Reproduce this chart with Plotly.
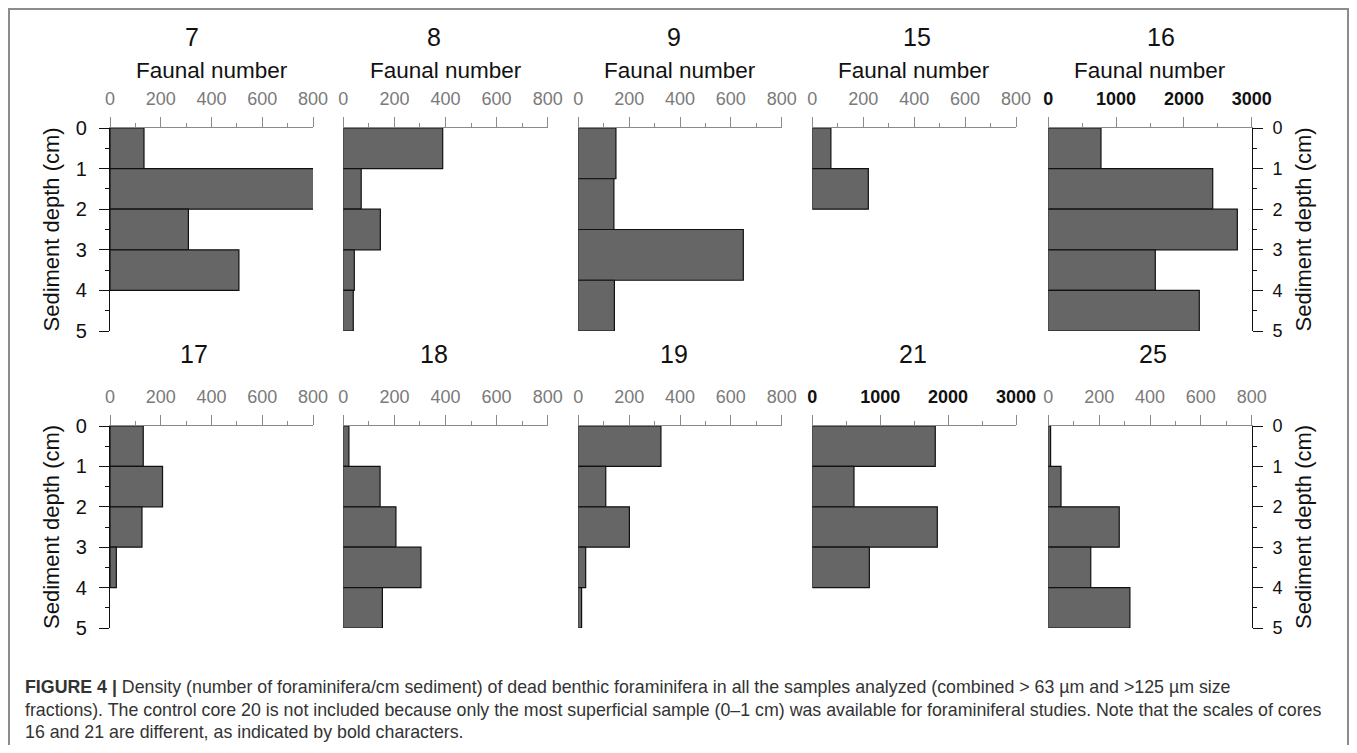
import plotly.graph_objects as go

# page is 1357x753; the browser body adds an 8px margin around the figure
PAGE_W, PAGE_H = 1357, 753
OFF = 8
W, H = PAGE_W - 2 * OFF, PAGE_H - 2 * OFF

# ---------------- data ----------------
cores = ["7", "8", "9", "15", "16", "17", "18", "19", "21", "25"]
depth_std = [0, 1, 2, 3, 4, 5]
depth_c9 = [0, 1.25, 2.5, 3.75, 5]

fauna_7 = [134, 805, 309, 508]
fauna_8 = [389, 70, 145, 43, 39]
fauna_9 = [148, 140, 649, 142]
fauna_15 = [73, 220]
fauna_16 = [777, 2425, 2788, 1578, 2227]
fauna_17 = [131, 207, 126, 25]
fauna_18 = [22, 144, 206, 304, 153]
fauna_19 = [325, 108, 201, 29, 13]
fauna_21 = [1811, 614, 1841, 840]
fauna_25 = [9, 50, 279, 167, 321]

scale_small_max = 800
scale_large_max = 3000
depth_ticks = [0, 1, 2, 3, 4, 5]

x_title = "Faunal number"
y_title = "Sediment depth (cm)"
caption_lines = [
    "<b>FIGURE 4 |</b> Density (number of foraminifera/cm sediment) of dead benthic foraminifera in all the samples analyzed (combined &gt; 63 µm and &gt;125 µm size",
    "fractions). The control core 20 is not included because only the most superficial sample (0–1 cm) was available for foraminiferal studies. Note that the scales of cores",
    "16 and 21 are different, as indicated by bold characters.",
]

values = [fauna_7, fauna_8, fauna_9, fauna_15, fauna_16,
          fauna_17, fauna_18, fauna_19, fauna_21, fauna_25]
depths = [depth_std, depth_std, depth_c9, depth_std, depth_std,
          depth_std, depth_std, depth_std, depth_std, depth_std]
large_scale = [False, False, False, False, True,
               False, False, False, True, False]

# ---------------- layout geometry (page pixels) ----------------
col_px = [(110, 313), (343.3, 547.7), (578.3, 781.7), (812.3, 1016), (1048.3, 1251.7)]
row_px = [(128, 331), (426, 628)]
title_x_px = [192, 434, 674, 917, 1161, 194, 434, 674, 913, 1153]
title_y_px = [37, 354]
xtitle_y_px = 70

FONT = "Liberation Sans, Arial, Helvetica, sans-serif"
GRAY = "#8a8a8a"

def px_x(p):
    return (p - OFF) / W

def px_y(p):
    return 1 - (p - OFF) / H

fig = go.Figure()
layout = {}
annotations = []

for i, core in enumerate(cores):
    n = i + 1
    r, c = divmod(i, 5)
    xs = "x" if n == 1 else f"x{n}"
    ys = "y" if n == 1 else f"y{n}"
    xkey = "xaxis" if n == 1 else f"xaxis{n}"
    ykey = "yaxis" if n == 1 else f"yaxis{n}"

    d = depths[i]
    v = values[i]
    mids = [(d[k] + d[k + 1]) / 2 for k in range(len(v))]
    widths = [d[k + 1] - d[k] for k in range(len(v))]

    fig.add_trace(go.Bar(
        x=v, y=mids, width=widths, orientation="h",
        marker=dict(color="#666666", line=dict(color="#111111", width=1.2)),
        xaxis=xs, yaxis=ys, showlegend=False, hoverinfo="skip",
        cliponaxis=False,
    ))

    big = large_scale[i]
    xmax = scale_large_max if big else scale_small_max
    layout[xkey] = dict(
        domain=[px_x(col_px[c][0]), px_x(col_px[c][1])],
        anchor=ys, side="top", range=[0, xmax],
        automargin=False,
        showgrid=False, zeroline=False,
        showline=True, linecolor=GRAY, linewidth=1.3,
        ticks="outside", ticklen=10, tickwidth=1.2, tickcolor=GRAY,
        tickmode="linear", tick0=0, dtick=1000 if big else 200,
        minor=dict(ticks="outside", ticklen=4, tickwidth=1.2, tickcolor=GRAY,
                   dtick=500 if big else 100, tick0=0, showgrid=False),
        exponentformat="none", separatethousands=False,
        tickfont=dict(family=FONT, size=18,
                      color="#111111" if big else "#7a7a7a",
                      weight="bold" if big else "normal"),
        ticklabelstandoff=5,
        fixedrange=True,
    )

    ydom = [px_y(row_px[r][1]), px_y(row_px[r][0])]
    yax = dict(domain=ydom, anchor=xs, range=[5, 0], showgrid=False,
               zeroline=False, fixedrange=True, automargin=False)
    if c == 0 or c == 4:
        yax.update(
            side="left" if c == 0 else "right",
            showline=True, linecolor="#111111", linewidth=1.3,
            ticks="outside", ticklen=10, tickwidth=1.2, tickcolor="#111111",
            tickmode="array", tickvals=depth_ticks,
            minor=dict(ticks="outside", ticklen=4, tickwidth=1.2,
                       tickcolor="#111111", dtick=0.5, tick0=0, showgrid=False),
            tickfont=dict(family=FONT, size=20 if c == 0 else 18, color="#111111"),
            ticklabelstandoff=8 if c == 0 else 6,
        )
    else:
        yax.update(showline=False, showticklabels=False, ticks="")
    layout[ykey] = yax

    # panel number
    annotations.append(dict(
        x=px_x(title_x_px[i]), y=px_y(title_y_px[r]), xref="paper", yref="paper",
        text=core, showarrow=False, xanchor="center", yanchor="middle",
        font=dict(family=FONT, size=25, color="#111111"),
    ))
    # x title on top row
    if r == 0:
        annotations.append(dict(
            x=px_x((col_px[c][0] + col_px[c][1]) / 2), y=px_y(xtitle_y_px),
            xref="paper", yref="paper", text=x_title, showarrow=False,
            xanchor="center", yanchor="middle",
            font=dict(family=FONT, size=22.5, color="#111111"),
        ))
    # y titles
    if c == 0 or c == 4:
        annotations.append(dict(
            x=px_x(51 if c == 0 else 1303),
            y=px_y((row_px[r][0] + row_px[r][1]) / 2),
            xref="paper", yref="paper", text=y_title, showarrow=False,
            textangle=-90, xanchor="center", yanchor="middle",
            font=dict(family=FONT, size=22, color="#111111"),
        ))

caption_y_px = [687, 710, 732]
for line, yp in zip(caption_lines, caption_y_px):
    annotations.append(dict(
        x=px_x(23), y=px_y(yp), xref="paper", yref="paper", text=line,
        showarrow=False, xanchor="left", yanchor="middle", align="left",
        font=dict(family=FONT, size=17.8, color="#333333"),
    ))

# outer frame (left, top, right edges visible; bottom runs off the page)
shapes = [dict(
    type="rect", xref="paper", yref="paper",
    x0=px_x(9), x1=px_x(1348), y0=px_y(770), y1=px_y(9),
    line=dict(color="#8c8c8c", width=2), fillcolor="rgba(0,0,0,0)",
)]

fig.update_layout(
    width=W, height=H, autosize=False,
    margin=dict(l=0, r=0, t=0, b=0, autoexpand=False),
    paper_bgcolor="white", plot_bgcolor="white",
    annotations=annotations, shapes=shapes,
    font=dict(family=FONT),
    **layout,
)

fig.write_html("out.html", config={"displayModeBar": False})
